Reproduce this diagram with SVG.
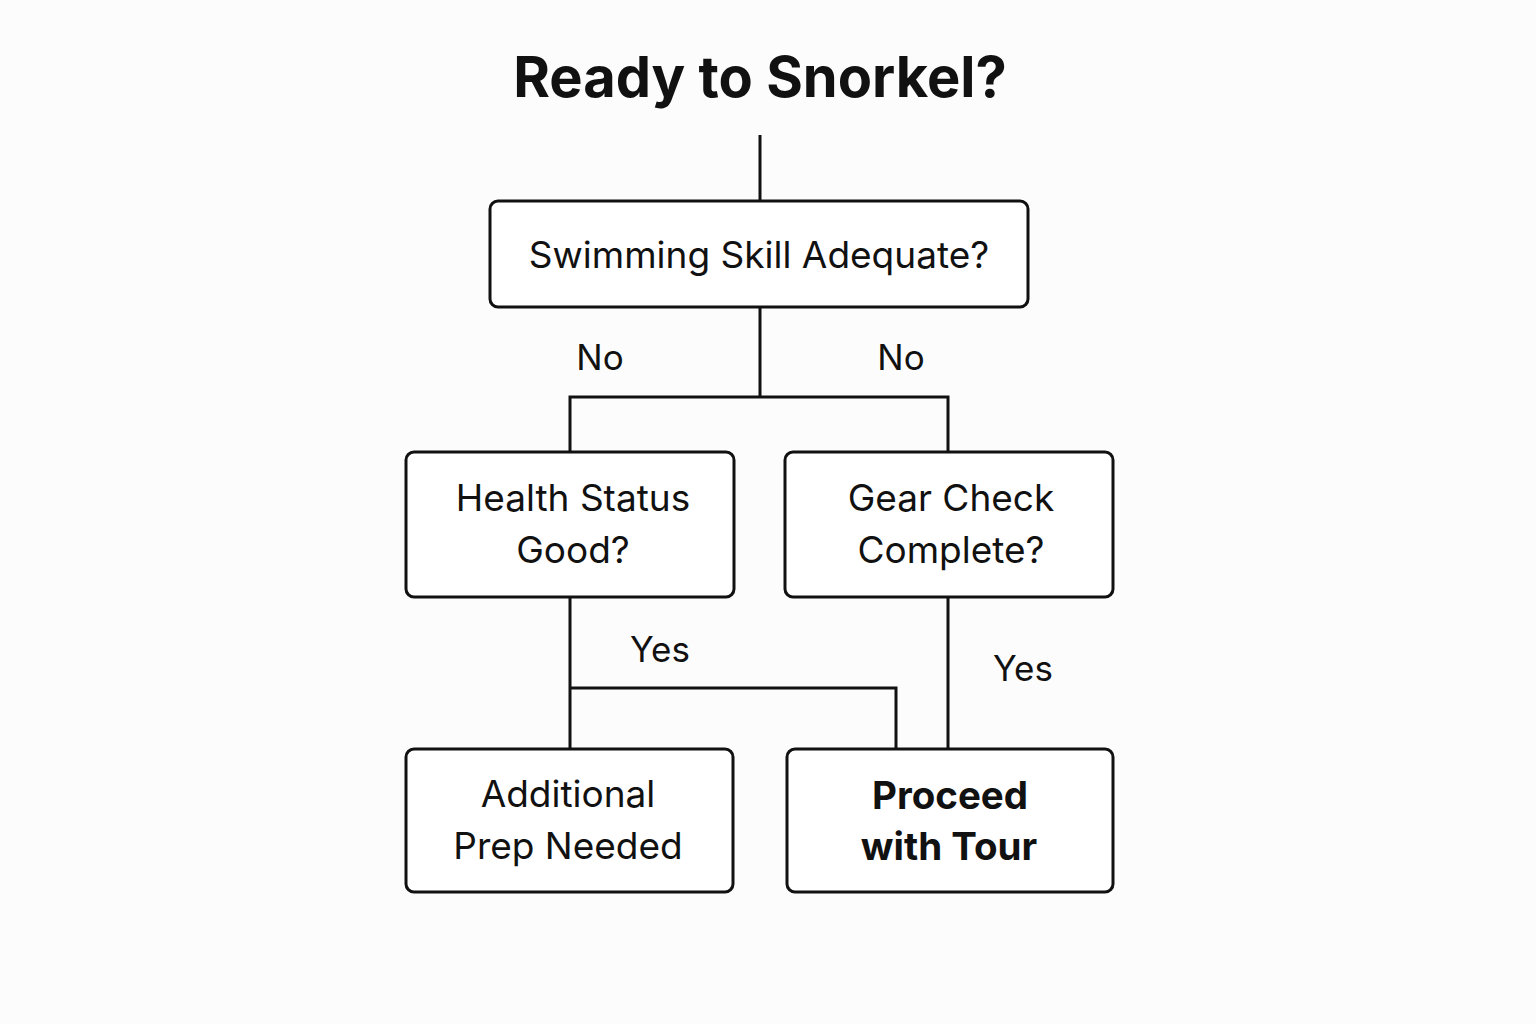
<svg xmlns="http://www.w3.org/2000/svg" width="1536" height="1024" viewBox="0 0 1536 1024">
<style>
.box{fill:#ffffff;stroke:#111;stroke-width:3}
.ln{fill:none;stroke:#111;stroke-width:3}
.t{font-family:Inter,"Liberation Sans",sans-serif;font-size:35px;fill:#111;text-anchor:middle}
.n{font-size:37px}
.b{font-weight:700;font-size:38.5px}
.title{font-family:Inter,"Liberation Sans",sans-serif;font-size:56px;font-weight:700;fill:#111;text-anchor:middle}
</style>
<rect width="1536" height="1024" fill="#fcfcfc"/>
<text class="title" x="760" y="97">Ready to Snorkel?</text>
<g id="connectors">
<path class="ln" d="M760 135V201"/>
<path class="ln" d="M760 307V397M570 452V397H948V452"/>
<path class="ln" d="M570 597V748M570 688H896V748"/>
<path class="ln" d="M948 597V748"/>
<text class="t" x="600" y="370">No</text>
<text class="t" x="901" y="370">No</text>
<text class="t" x="660" y="662">Yes</text>
<text class="t" x="1023" y="681">Yes</text>
</g>
<g id="swim">
<rect class="box" x="490" y="201" width="538" height="106" rx="8"/>
<text class="t n" x="759" y="268">Swimming Skill Adequate?</text>
</g>
<g id="health">
<rect class="box" x="406" y="452" width="328" height="145" rx="8"/>
<text class="t n" x="573" y="511">Health Status</text>
<text class="t n" x="573" y="563">Good?</text>
</g>
<g id="gear">
<rect class="box" x="785" y="452" width="328" height="145" rx="8"/>
<text class="t n" x="951" y="511">Gear Check</text>
<text class="t n" x="951" y="563">Complete?</text>
</g>
<g id="prep">
<rect class="box" x="406" y="749" width="327" height="143" rx="8"/>
<text class="t n" x="568" y="807">Additional</text>
<text class="t n" x="568" y="859">Prep Needed</text>
</g>
<g id="proceed">
<rect class="box" x="787" y="749" width="326" height="143" rx="8"/>
<text class="t b" x="950" y="809">Proceed</text>
<text class="t b" x="949" y="860">with Tour</text>
</g>
</svg>
